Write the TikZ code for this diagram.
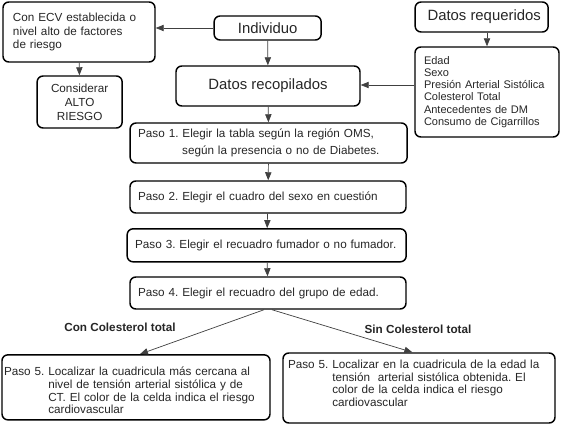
\documentclass[tikz,border=0pt]{standalone}
\usepackage{fontspec}
\setmainfont{Liberation Sans}
\usepackage{tikz}
\usetikzlibrary{
    arrows.meta,
    positioning
}
\frenchspacing

\begin{document}
\begin{tikzpicture}[
    box/.style={
        rectangle,
        rounded corners=5pt,
        align=left,
        draw=black,
        line width=1.25pt,
        inner sep=2pt,
        text=black!85,
        font=\fontsize{10}{11.4}\selectfont
    },
    bigbox/.style={
        box,
        align=center,
        font=\fontsize{12.7}{15}\selectfont
    },
    arrow/.style={
        -{Triangle[length=2.4mm,width=1.9mm]},
        line width=0.6pt,
        draw=black!75
    },
    caption/.style={
        font=\bfseries\fontsize{10}{12}\selectfont,
        text=black!85
    }
]
\useasboundingbox (0,0) rectangle (16.83,12.81);

% Top row
\node[box, text width=3.96cm, inner xsep=0.3cm, minimum height=1.8cm] (ecv) at (2.37, 11.85)
    {Con ECV establecida o\\nivel alto de factores\\de riesgo};
\node[bigbox, minimum width=3.21cm, minimum height=0.72cm] (indiv) at (8.03, 11.97) {Individuo};
\node[bigbox, minimum width=3.99cm, minimum height=0.9cm] (requer) at (14.45, 12.30)
    {\hspace*{0.15cm}Datos requeridos};

% Second row
\node[box, align=center, minimum width=2.55cm, minimum height=1.56cm,
      font=\fontsize{10}{11.8}\selectfont] (alto) at (2.39, 9.75)
    {Considerar\\ALTO\\RIESGO};
\node[bigbox, minimum width=5.52cm, minimum height=1.2cm] (recop) at (8.04, 10.23) {Datos recopilados};
\node[box, text width=3.78cm, inner xsep=0.27cm, minimum height=2.7cm,
      font=\fontsize{9.4}{10.4}\selectfont] (lista) at (14.61, 10.05)
    {Edad\\Sexo\\Presión Arterial Sistólica\\Colesterol Total\\Antecedentes de DM\\Consumo de Cigarrillos};

% Pasos
\node[box, text width=7.83cm, inner xsep=0.24cm, minimum height=1.2cm,
      font=\fontsize{10}{14.2}\selectfont] (paso1) at (8.06, 8.52)
    {Paso 1. Elegir la tabla según la región OMS,\\\hspace*{1.32cm}según la presencia o no de Diabetes.};
\node[box, text width=7.80cm, inner xsep=0.24cm, minimum height=0.96cm] (paso2) at (8.04, 6.90)
    {Paso 2. Elegir el cuadro del sexo en cuestión};
\node[box, text width=7.89cm, inner xsep=0.24cm, minimum height=0.99cm] (paso3) at (8.00, 5.45)
    {Paso 3. Elegir el recuadro fumador o no fumador.};
\node[box, text width=7.80cm, inner xsep=0.24cm, minimum height=0.96cm] (paso4) at (8.04, 4.02)
    {Paso 4. Elegir el recuadro del grupo de edad.};

% Paso 5
\node[box, text width=7.92cm, inner xsep=0.06cm, minimum height=1.95cm,
      font=\fontsize{10}{10.8}\selectfont] (conct) at (4.08, 1.19)
    {\raisebox{-0.24cm}[0pt][0pt]{\begin{tabular}{@{}l@{ }l@{}}
    Paso 5. & Localizar la cuadricula más cercana al\\
     & nivel de tensión arterial sistólica y de\\
     & CT. El color de la celda indica el riesgo\\
     & cardiovascular
    \end{tabular}}};
\node[box, text width=7.86cm, inner xsep=0.15cm, minimum height=2.1cm,
      font=\fontsize{10}{10.8}\selectfont] (sinct) at (12.57, 1.17)
    {\raisebox{0cm}[0pt][0pt]{\begin{tabular}{@{}l@{ }l@{}}
    Paso 5. & Localizar en la cuadricula de la edad la\\
     & tensión\ \ arterial sistólica obtenida. El\\
     & color de la celda indica el riesgo\\
     & cardiovascular
    \end{tabular}}};

% Branch labels
\node[caption] (conlbl) at (3.6, 3.0) {Con Colesterol total};
\node[caption] (sinlbl) at (12.54, 2.94) {Sin Colesterol total};

% Arrows
\draw[arrow] (indiv) -- (ecv.east |- indiv);
\draw[arrow] (ecv) -- (alto);
\draw[arrow] (indiv) -- (recop);
\draw[arrow] (requer.south -| lista) -- (lista);
\draw[arrow] (lista.west |- 0,10.26) -- (recop.east |- 0,10.26);
\draw[arrow] (recop) -- (paso1);
\draw[arrow] (paso1) -- (paso2);
\draw[arrow] (paso2) -- (paso3);
\draw[arrow] (paso3) -- (paso4);
\draw[arrow] ([xshift=-0.12cm]paso4.south) -- ([xshift=0.12cm]conct.north);
\draw[arrow] ([xshift=0.12cm]paso4.south) -- ([xshift=-0.2cm]sinct.north);

\end{tikzpicture}
\end{document}
